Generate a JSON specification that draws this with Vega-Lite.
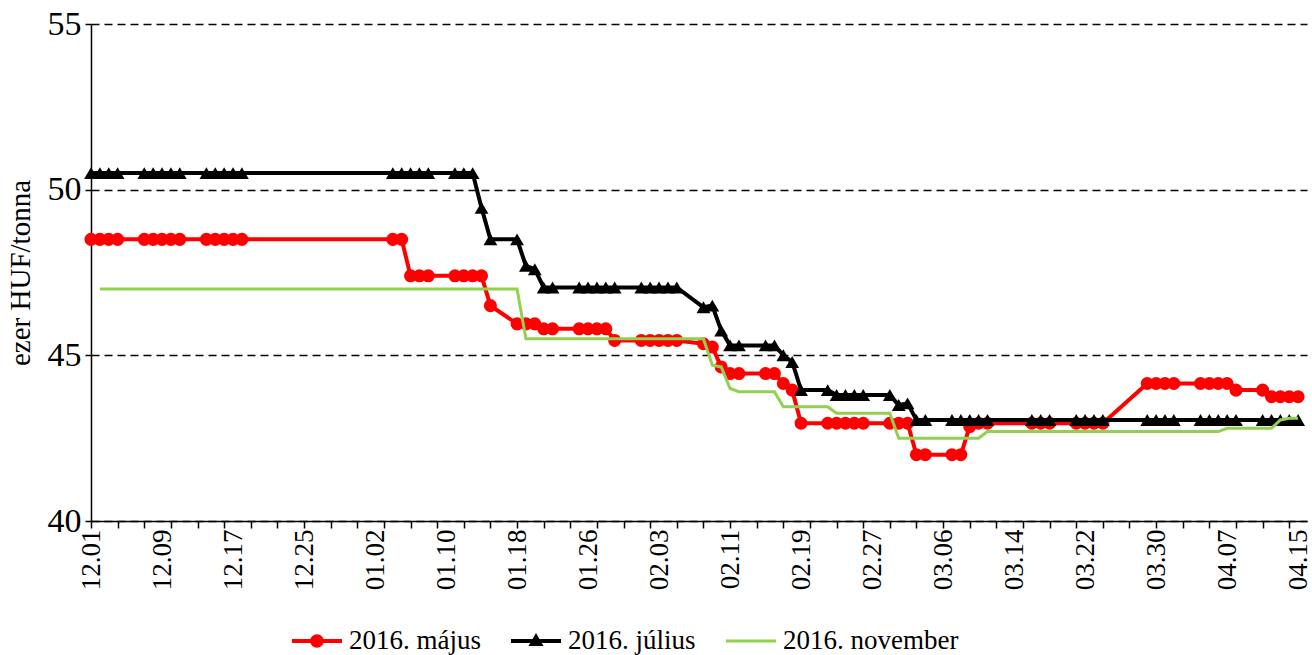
{
  "$schema": "https://vega.github.io/schema/vega-lite/v6.json",
  "width": 1216,
  "height": 497,
  "autosize": "none",
  "padding": {"left": 91, "top": 24, "right": 5, "bottom": 134},
  "background": "white",
  "config": {"view": {"stroke": null}, "font": "Liberation Serif"},
  "data": {"values": [
    {"d":"2015-12-01","M":48.5,"J":50.5},
    {"d":"2015-12-02","M":48.5,"J":50.5,"N":47.0},
    {"d":"2015-12-03","M":48.5,"J":50.5,"N":47.0},
    {"d":"2015-12-04","M":48.5,"J":50.5,"N":47.0},
    {"d":"2015-12-07","M":48.5,"J":50.5,"N":47.0},
    {"d":"2015-12-08","M":48.5,"J":50.5,"N":47.0},
    {"d":"2015-12-09","M":48.5,"J":50.5,"N":47.0},
    {"d":"2015-12-10","M":48.5,"J":50.5,"N":47.0},
    {"d":"2015-12-11","M":48.5,"J":50.5,"N":47.0},
    {"d":"2015-12-14","M":48.5,"J":50.5,"N":47.0},
    {"d":"2015-12-15","M":48.5,"J":50.5,"N":47.0},
    {"d":"2015-12-16","M":48.5,"J":50.5,"N":47.0},
    {"d":"2015-12-17","M":48.5,"J":50.5,"N":47.0},
    {"d":"2015-12-18","M":48.5,"J":50.5,"N":47.0},
    {"d":"2016-01-04","M":48.5,"J":50.5,"N":47.0},
    {"d":"2016-01-05","M":48.5,"J":50.5,"N":47.0},
    {"d":"2016-01-06","M":47.4,"J":50.5,"N":47.0},
    {"d":"2016-01-07","M":47.4,"J":50.5,"N":47.0},
    {"d":"2016-01-08","M":47.4,"J":50.5,"N":47.0},
    {"d":"2016-01-11","M":47.4,"J":50.5,"N":47.0},
    {"d":"2016-01-12","M":47.4,"J":50.5,"N":47.0},
    {"d":"2016-01-13","M":47.4,"J":50.5,"N":47.0},
    {"d":"2016-01-14","M":47.4,"J":49.45,"N":47.0},
    {"d":"2016-01-15","M":46.5,"J":48.5,"N":47.0},
    {"d":"2016-01-18","M":45.95,"J":48.5,"N":47.0},
    {"d":"2016-01-19","M":45.95,"J":47.7,"N":45.5},
    {"d":"2016-01-20","M":45.95,"J":47.6,"N":45.5},
    {"d":"2016-01-21","M":45.8,"J":47.05,"N":45.5},
    {"d":"2016-01-22","M":45.8,"J":47.05,"N":45.5},
    {"d":"2016-01-25","M":45.8,"J":47.05,"N":45.5},
    {"d":"2016-01-26","M":45.8,"J":47.05,"N":45.5},
    {"d":"2016-01-27","M":45.8,"J":47.05,"N":45.5},
    {"d":"2016-01-28","M":45.8,"J":47.05,"N":45.5},
    {"d":"2016-01-29","M":45.45,"J":47.05,"N":45.5},
    {"d":"2016-02-01","M":45.45,"J":47.05,"N":45.5},
    {"d":"2016-02-02","M":45.45,"J":47.05,"N":45.5},
    {"d":"2016-02-03","M":45.45,"J":47.05,"N":45.5},
    {"d":"2016-02-04","M":45.45,"J":47.05,"N":45.5},
    {"d":"2016-02-05","M":45.45,"J":47.05,"N":45.5},
    {"d":"2016-02-08","M":45.35,"J":46.45,"N":45.5},
    {"d":"2016-02-09","M":45.25,"J":46.5,"N":44.7},
    {"d":"2016-02-10","M":44.65,"J":45.75,"N":44.65},
    {"d":"2016-02-11","M":44.45,"J":45.3,"N":44.0},
    {"d":"2016-02-12","M":44.45,"J":45.3,"N":43.9},
    {"d":"2016-02-15","M":44.45,"J":45.3,"N":43.9},
    {"d":"2016-02-16","M":44.45,"J":45.3,"N":43.9},
    {"d":"2016-02-17","M":44.15,"J":45.0,"N":43.45},
    {"d":"2016-02-18","M":43.95,"J":44.8,"N":43.45},
    {"d":"2016-02-19","M":42.95,"J":43.95,"N":43.45},
    {"d":"2016-02-22","M":42.95,"J":43.95,"N":43.45},
    {"d":"2016-02-23","M":42.95,"J":43.8,"N":43.25},
    {"d":"2016-02-24","M":42.95,"J":43.8,"N":43.25},
    {"d":"2016-02-25","M":42.95,"J":43.8,"N":43.25},
    {"d":"2016-02-26","M":42.95,"J":43.8,"N":43.25},
    {"d":"2016-02-29","M":42.95,"J":43.8,"N":43.25},
    {"d":"2016-03-01","M":42.95,"J":43.5,"N":42.5},
    {"d":"2016-03-02","M":42.95,"J":43.55,"N":42.5},
    {"d":"2016-03-03","M":42.0,"J":43.05,"N":42.5},
    {"d":"2016-03-04","M":42.0,"J":43.05,"N":42.5},
    {"d":"2016-03-07","M":42.0,"J":43.05,"N":42.5},
    {"d":"2016-03-08","M":42.0,"J":43.05,"N":42.5},
    {"d":"2016-03-09","M":42.85,"J":43.05,"N":42.5},
    {"d":"2016-03-10","M":42.95,"J":43.05,"N":42.5},
    {"d":"2016-03-11","M":42.95,"J":43.05,"N":42.7},
    {"d":"2016-03-16","M":42.95,"J":43.05,"N":42.7},
    {"d":"2016-03-17","M":42.95,"J":43.05,"N":42.7},
    {"d":"2016-03-18","M":42.95,"J":43.05,"N":42.7},
    {"d":"2016-03-21","M":42.95,"J":43.05,"N":42.7},
    {"d":"2016-03-22","M":42.95,"J":43.05,"N":42.7},
    {"d":"2016-03-23","M":42.95,"J":43.05,"N":42.7},
    {"d":"2016-03-24","M":42.95,"J":43.05,"N":42.7},
    {"d":"2016-03-29","M":44.15,"J":43.05,"N":42.7},
    {"d":"2016-03-30","M":44.15,"J":43.05,"N":42.7},
    {"d":"2016-03-31","M":44.15,"J":43.05,"N":42.7},
    {"d":"2016-04-01","M":44.15,"J":43.05,"N":42.7},
    {"d":"2016-04-04","M":44.15,"J":43.05,"N":42.7},
    {"d":"2016-04-05","M":44.15,"J":43.05,"N":42.7},
    {"d":"2016-04-06","M":44.15,"J":43.05,"N":42.7},
    {"d":"2016-04-07","M":44.15,"J":43.05,"N":42.8},
    {"d":"2016-04-08","M":43.95,"J":43.05,"N":42.8},
    {"d":"2016-04-11","M":43.95,"J":43.05,"N":42.8},
    {"d":"2016-04-12","M":43.75,"J":43.05,"N":42.8},
    {"d":"2016-04-13","M":43.75,"J":43.05,"N":43.05},
    {"d":"2016-04-14","M":43.75,"J":43.05,"N":43.1},
    {"d":"2016-04-15","M":43.75,"J":43.05,"N":43.1}
  ]},
  "transform": [
    {"fold": ["M", "J", "N"], "as": ["k", "v"]},
    {"filter": "isValid(datum.v)"},
    {"lookup": "k", "from": {"data": {"values": [
      {"k": "M", "s": "2016. május"},
      {"k": "J", "s": "2016. július"},
      {"k": "N", "s": "2016. november"}
    ]}, "key": "k", "fields": ["s"]}}
  ],
  "resolve": {"axis": {"x": "independent"}},
  "layer": [
    {
      "transform": [{"filter": "datum.k === 'M'"}],
      "mark": {"type": "line", "strokeWidth": 4},
      "encoding": {
        "x": {"field": "d", "type": "temporal",
          "scale": {"type": "utc", "domain": [1448928000000, 1460764800000]},
          "axis": {"orient": "bottom", "values": [1448928000000,1449619200000,1450310400000,1451001600000,1451692800000,1452384000000,1453075200000,1453766400000,1454457600000,1455148800000,1455840000000,1456531200000,1457222400000,1457913600000,1458604800000,1459296000000,1459987200000,1460678400000],
            "labelExpr": "utcFormat(datum.value, '%m.%d')", "labelAngle": -90, "labelAlign": "right", "labelBaseline": "middle",
            "labelFont": "Liberation Serif", "labelFontSize": 27, "labelColor": "black", "labelPadding": 8,
            "ticks": false, "tickSize": 0, "grid": false, "domain": true, "domainColor": "black", "domainWidth": 1.5, "title": null, "labelOverlap": false, "labelFlush": false}},
        "y": {"field": "v", "type": "quantitative",
          "scale": {"domain": [40, 55], "nice": false, "zero": false},
          "axis": {"values": [40, 45, 50, 55], "title": "ezer HUF/tonna", "titleFont": "Liberation Serif", "titleFontSize": 29, "titleFontWeight": "normal", "titleColor": "black", "titlePadding": 12,
            "labelFont": "Liberation Serif", "labelFontSize": 34, "labelColor": "black", "labelPadding": 4,
            "tickColor": "black", "tickSize": 6, "tickWidth": 1.5, "domainColor": "black", "domainWidth": 1.5,
            "grid": true, "gridColor": "black", "gridDash": [8, 5], "gridWidth": 1.5}},
        "color": {"field": "s", "type": "nominal",
          "scale": {"domain": ["2016. május", "2016. július", "2016. november"], "range": ["#ff0000", "#000000", "#92d050"]},
          "legend": {"orient": "none", "legendX": 201, "legendY": 592, "direction": "horizontal", "title": null,
            "symbolSize": 2500, "labelFont": "Liberation Serif", "labelFontSize": 27, "labelColor": "black", "labelOffset": 7, "labelLimit": 0,
            "columnPadding": 30, "padding": 0,
            "encode": {"symbols": {"update": {
              "shape": {"signal": "datum.value === '2016. május' ? 'M-1,-0.08H1V0.08H-1Z M0.27,0A0.27,0.27,0,1,1,-0.27,0A0.27,0.27,0,1,1,0.27,0Z' : datum.value === '2016. július' ? 'M-1,-0.08H1V0.08H-1Z M0,-0.32L0.3,0.2H-0.3Z' : 'M-1,-0.06H1V0.06H-1Z'"},
              "fill": {"signal": "datum.value === '2016. május' ? '#ff0000' : datum.value === '2016. július' ? '#000000' : '#92d050'"},
              "stroke": {"value": "transparent"},
              "strokeWidth": {"value": 0},
              "opacity": {"value": 1},
              "fillOpacity": {"value": 1}
            }}}}}
      }
    },
    {
      "transform": [{"filter": "datum.k === 'M'"}],
      "mark": {"type": "point", "filled": true, "shape": "circle", "size": 170, "opacity": 1},
      "encoding": {
        "x": {"field": "d", "type": "temporal",
          "scale": {"type": "utc", "domain": [1448928000000, 1460764800000]},
          "axis": {"orient": "bottom", "values": [1448928000000,1449187200000,1449446400000,1449705600000,1449964800000,1450224000000,1450483200000,1450742400000,1451001600000,1451260800000,1451520000000,1451779200000,1452038400000,1452297600000,1452556800000,1452816000000,1453075200000,1453334400000,1453593600000,1453852800000,1454112000000,1454371200000,1454630400000,1454889600000,1455148800000,1455408000000,1455667200000,1455926400000,1456185600000,1456444800000,1456704000000,1456963200000,1457222400000,1457481600000,1457740800000,1458000000000,1458259200000,1458518400000,1458777600000,1459036800000,1459296000000,1459555200000,1459814400000,1460073600000,1460332800000,1460592000000],
            "labels": false, "ticks": true, "tickSize": 7, "tickColor": "black", "tickWidth": 1.5, "grid": false, "domain": false, "title": null}},
        "y": {"field": "v", "type": "quantitative", "scale": {"domain": [40, 55], "nice": false, "zero": false}},
        "color": {"field": "s", "type": "nominal", "scale": {"domain": ["2016. május", "2016. július", "2016. november"], "range": ["#ff0000", "#000000", "#92d050"]}, "legend": null}
      }
    },
    {
      "transform": [{"filter": "datum.k === 'J'"}],
      "mark": {"type": "line", "strokeWidth": 4},
      "encoding": {
        "x": {"field": "d", "type": "temporal", "scale": {"type": "utc", "domain": [1448928000000, 1460764800000]}, "axis": null},
        "y": {"field": "v", "type": "quantitative", "scale": {"domain": [40, 55], "nice": false, "zero": false}},
        "color": {"field": "s", "type": "nominal", "scale": {"domain": ["2016. május", "2016. július", "2016. november"], "range": ["#ff0000", "#000000", "#92d050"]}, "legend": null}
      }
    },
    {
      "transform": [{"filter": "datum.k === 'J'"}],
      "mark": {"type": "point", "filled": true, "shape": "triangle-up", "size": 190, "opacity": 1},
      "encoding": {
        "x": {"field": "d", "type": "temporal", "scale": {"type": "utc", "domain": [1448928000000, 1460764800000]}, "axis": null},
        "y": {"field": "v", "type": "quantitative", "scale": {"domain": [40, 55], "nice": false, "zero": false}},
        "color": {"field": "s", "type": "nominal", "scale": {"domain": ["2016. május", "2016. július", "2016. november"], "range": ["#ff0000", "#000000", "#92d050"]}, "legend": null}
      }
    },
    {
      "transform": [{"filter": "datum.k === 'N'"}],
      "mark": {"type": "line", "strokeWidth": 3},
      "encoding": {
        "x": {"field": "d", "type": "temporal", "scale": {"type": "utc", "domain": [1448928000000, 1460764800000]}, "axis": null},
        "y": {"field": "v", "type": "quantitative", "scale": {"domain": [40, 55], "nice": false, "zero": false}},
        "color": {"field": "s", "type": "nominal", "scale": {"domain": ["2016. május", "2016. július", "2016. november"], "range": ["#ff0000", "#000000", "#92d050"]}, "legend": null}
      }
    }
  ]
}
